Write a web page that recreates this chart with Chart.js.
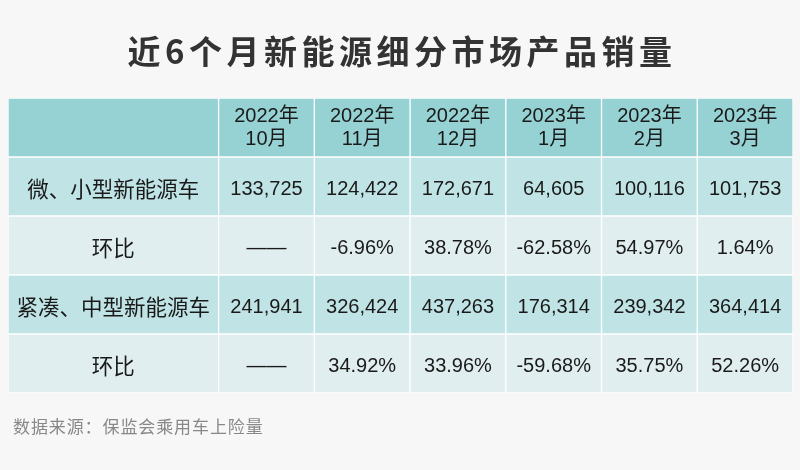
<!DOCTYPE html>
<html><head>
<meta charset="UTF-8">
<title>近6个月新能源细分市场产品销量</title>
<script src="https://cdn.jsdelivr.net/npm/chart.js"></script>
<style>
html, body { margin: 0; padding: 0; background: #f7f7f7; }
#wrap { position: relative; width: 800px; height: 470px; overflow: hidden; }
#title { position: absolute; left: 0; top: 25px; width: 800px; padding-left: 4px; box-sizing: border-box; text-align: center;
  font: bold 33px "Noto Sans CJK SC", sans-serif; line-height: 50px; color: #333; letter-spacing: 4.5px; }
#source { position: absolute; left: 13px; top: 416px; font: 17px "Noto Sans CJK SC", sans-serif; line-height: 20px;
  color: #888; letter-spacing: 0.9px; }
canvas { position: absolute; left: 0; top: 0; }
</style></head><body>
<div id="wrap">
  <canvas id="table" width="800" height="470"></canvas>
  <div id="title">近6个月新能源细分市场产品销量</div>
  <div id="source">数据来源：保监会乘用车上险量</div>
</div>
<script>
// table content
const years = ['2022', '2022', '2022', '2023', '2023', '2023'];
const months = ['10', '11', '12', '1', '2', '3'];
const rowLabels = ['微、小型新能源车', '环比', '紧凑、中型新能源车', '环比'];
const smallSales = [133725, 124422, 172671, 64605, 100116, 101753];
const smallMoM = [null, -6.96, 38.78, -62.58, 54.97, 1.64];
const midSales = [241941, 326424, 437263, 176314, 239342, 364414];
const midMoM = [null, 34.92, 33.96, -59.68, 35.75, 52.26];

// layout / styling
const colUnits = [2.2, 1, 1, 1, 1, 1, 1];
const rowKeys = ['header', 'small', 'smallMoM', 'mid', 'midMoM'];
const rowColors = ['#96d2d4', '#c0e4e5', '#e1eeef', '#c0e4e5', '#e1eeef'];

const fmtNum = v => v.toLocaleString('en-US');
const fmtPct = v => v === null ? '——' : v.toFixed(2) + '%';
const bodyRows = [smallSales.map(fmtNum), smallMoM.map(fmtPct), midSales.map(fmtNum), midMoM.map(fmtPct)];

function cellText(r, c) {
  if (r === 0) return c === 0 ? [] : [years[c - 1] + '年', months[c - 1] + '月'];
  if (c === 0) return [rowLabels[r - 1]];
  return [bodyRows[r - 1][c - 1]];
}

let acc = 0;
const colSpans = colUnits.map(u => { const s = [acc, acc + u]; acc += u; return s; });

const datasets = colSpans.map((span, c) => ({
  label: 'col' + c,
  data: rowKeys.map(() => span),
  backgroundColor: rowColors,
  borderColor: '#ffffff',
  borderWidth: 1,
  borderSkipped: false
}));

const cellTextPlugin = {
  id: 'cellText',
  afterDatasetsDraw(chart) {
    const ctx = chart.ctx;
    ctx.save();
    ctx.fillStyle = '#1a1a1a';
    ctx.textAlign = 'center';
    ctx.textBaseline = 'middle';
    chart.data.datasets.forEach((ds, c) => {
      chart.getDatasetMeta(c).data.forEach((bar, r) => {
        const lines = cellText(r, c);
        if (!lines.length) return;
        const cx = (bar.x + bar.base) / 2;
        if (r === 0) {
          ctx.font = '20px "Liberation Sans", "Noto Sans CJK SC", sans-serif';
          ctx.fillText(lines[0], cx, bar.y - 11.5);
          ctx.fillText(lines[1], cx, bar.y + 12);
        } else if (c === 0) {
          ctx.font = '21.5px "Noto Sans CJK SC", sans-serif';
          ctx.fillText(lines[0], cx, bar.y + 2.5);
        } else {
          ctx.font = '20px "Liberation Sans", sans-serif';
          ctx.fillText(lines[0], cx, bar.y + 2.5);
        }
      });
    });
    ctx.restore();
  }
};

new Chart(document.getElementById('table'), {
  type: 'bar',
  data: { labels: rowKeys, datasets: datasets },
  options: {
    indexAxis: 'y',
    responsive: false,
    animation: false,
    datasets: { bar: { grouped: false, barPercentage: 1, categoryPercentage: 1 } },
    layout: { padding: { left: 8, right: 7, top: 98, bottom: 77 } },
    plugins: { legend: { display: false }, tooltip: { enabled: false } },
    scales: {
      x: { type: 'linear', min: 0, max: acc, display: false },
      y: { type: 'category', display: false }
    }
  },
  plugins: [cellTextPlugin]
});
</script>
</body></html>
